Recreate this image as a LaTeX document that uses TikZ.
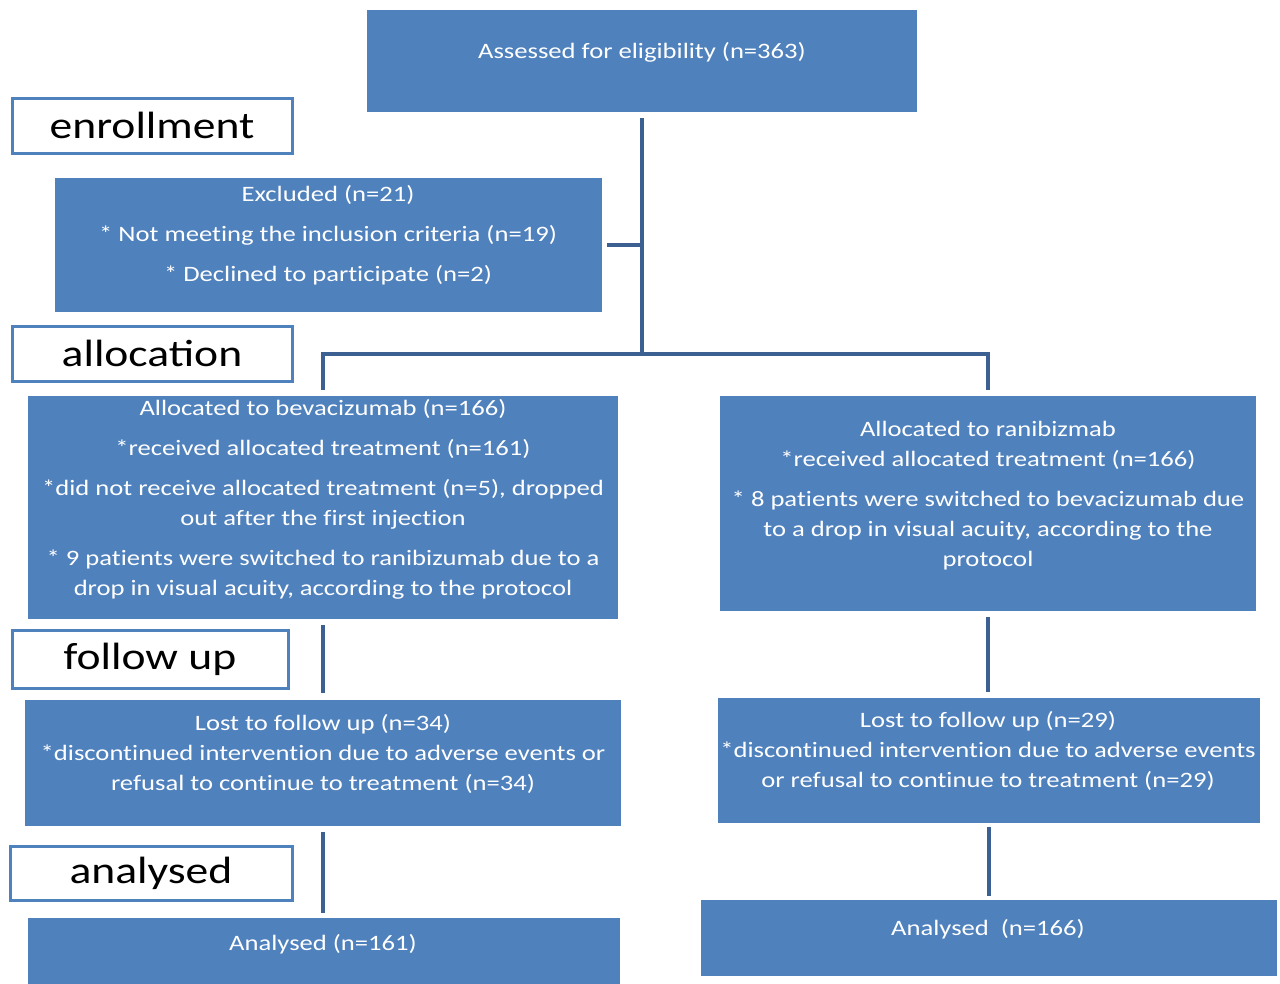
\documentclass[tikz,border=0pt]{standalone}
\usepackage{fontspec}
\setmainfont{Carlito}
\newfontfamily\labf[FakeStretch=1.2]{Carlito}
\newfontfamily\bodyf[FakeStretch=1.21,Ligatures=NoCommon]{Carlito}
\definecolor{boxblue}{RGB}{79,129,189}
\definecolor{lineblue}{RGB}{60,96,146}
\tikzset{
  box/.style={fill=boxblue, draw=none, inner sep=0pt},
  txt/.style={anchor=north, inner sep=0pt, align=center, text=white,
    font=\bodyf\fontsize{22}{30}\selectfont},
  lab/.style={draw=boxblue, line width=3pt, fill=white, inner sep=0pt,
    font=\labf\fontsize{38}{40}\selectfont},
  conn/.style={draw=lineblue, line width=4pt}
}
\newcommand{\st}{\rule{0pt}{20pt}}
\begin{document}
\begin{tikzpicture}[x=1pt,y=-1pt]
\useasboundingbox[fill=white] (0,0) rectangle (1280,983);
% boxes
\node[box, minimum width=550pt, minimum height=102pt] (top) at (642,61) {};
\node[box, minimum width=547pt, minimum height=134pt] (excl) at (328.5,245) {};
\node[box, minimum width=590pt, minimum height=223pt] (bev) at (323,507.5) {};
\node[box, minimum width=536pt, minimum height=215pt] (ran) at (988,503.5) {};
\node[box, minimum width=596pt, minimum height=126pt] (lostL) at (323,763) {};
\node[box, minimum width=542pt, minimum height=125pt] (lostR) at (989,760.5) {};
\node[box, minimum width=592pt, minimum height=70pt] (anaL) at (324,953) {};
\node[box, minimum width=576pt, minimum height=76pt] (anaR) at (989,938) {};
% stage labels
\node[lab, minimum width=280pt, minimum height=55pt] (lenr) at (152,125.5) {enrollment};
\node[lab, minimum width=280pt, minimum height=55pt] (lall) at (152,353.5) {allocation};
\node[lab, minimum width=276pt, minimum height=58pt] (lfol) at (150,659) {follow up};
\node[lab, minimum width=282pt, minimum height=54pt] (lana) at (151,873) {analysed};
% texts
\node[txt] (topT) at (642,38) {\st Assessed for eligibility (n=363)};
\node[txt] (exclT) at (328,181) {\st Excluded (n=21)\\[10pt]
  * Not meeting the inclusion criteria (n=19)\\[10pt]
  * Declined to participate (n=2)};
\node[txt] (bevT) at (323,395) {\st Allocated to bevacizumab (n=166)\\[10pt]
  *received allocated treatment (n=161)\\[10pt]
  *did not receive allocated treatment (n=5), dropped\\
  out after the first injection\\[10pt]
  * 9 patients were switched to ranibizumab due to a\\
  drop in visual acuity, according to the protocol};
\node[txt] (ranT) at (988,416) {\st Allocated to ranibizmab\\
  *received allocated treatment (n=166)\\[10pt]
  * 8 patients were switched to bevacizumab due\\
  to a drop in visual acuity, according to the\\
  protocol};
\node[txt] (lostLT) at (323,710) {\st Lost to follow up (n=34)\\
  *discontinued intervention due to adverse events or\\
  refusal to continue to treatment (n=34)};
\node[txt] (lostRT) at (988,707) {\st Lost to follow up (n=29)\\
  *discontinued intervention due to adverse events\\
  or refusal to continue to treatment (n=29)};
\node[txt] (anaLT) at (323,930) {\st Analysed (n=161)};
\node[txt] (anaRT) at (988,915) {\st Analysed\ \ (n=166)};
% connectors
\coordinate (split) at (642,354);
\draw[conn] ([yshift=-6pt]top.south) -- (split);
\draw[conn] ([xshift=5pt]excl.east) -- (excl.east -| split);
\draw[conn] ([yshift=6pt]bev.north) |- (split) -| ([yshift=6pt]ran.north);
\draw[conn] ([yshift=-6pt]bev.south) -- ([yshift=7pt]bev.south |- lostL.north);
\draw[conn] ([yshift=-6pt]ran.south) -- ([yshift=6pt]ran.south |- lostR.north);
\draw[conn] ([yshift=-6pt]lostL.south) -- ([yshift=5pt]lostL.south |- anaL.north);
\draw[conn] ([yshift=-4pt]lostR.south) -- ([yshift=4pt]lostR.south |- anaR.north);
\end{tikzpicture}
\end{document}
